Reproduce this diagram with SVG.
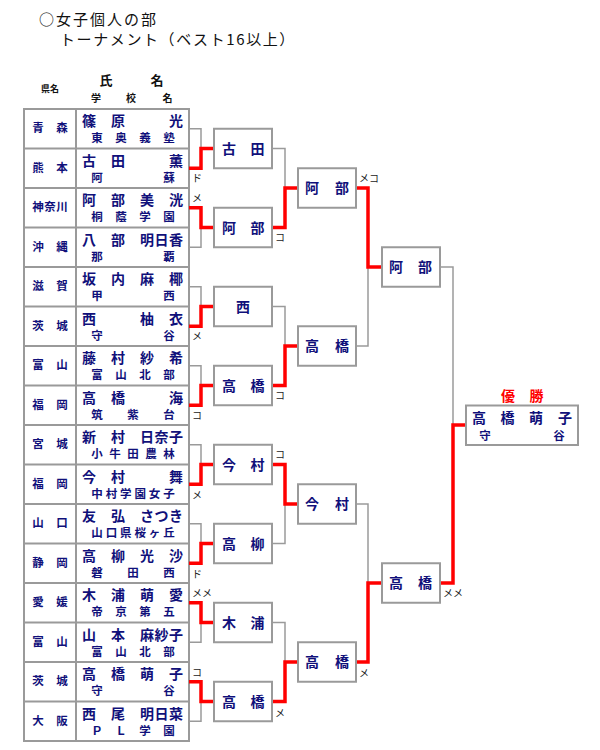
<svg xmlns="http://www.w3.org/2000/svg" width="600" height="750" viewBox="0 0 600 750">
<style>
.t{font-family:"Noto Sans CJK JP","Noto Sans",sans-serif;}
.nm{font-family:"Noto Sans CJK JP",sans-serif;font-size:14px;font-weight:700;fill:#10107a;text-anchor:middle;}
.sc{font-family:"Noto Sans CJK JP",sans-serif;font-size:11.5px;font-weight:700;fill:#10107a;text-anchor:middle;}
.pf{font-family:"Noto Sans CJK JP",sans-serif;font-size:11.5px;font-weight:700;fill:#10107a;text-anchor:middle;}
.box{fill:#fff;stroke:#9a9a9a;stroke-width:2;}
.grid{fill:none;stroke:#9a9a9a;stroke-width:2;}
.gl{fill:none;stroke:#9a9a9a;stroke-width:1.5;}
.rl{fill:none;stroke:#ff0000;stroke-width:3.5;stroke-linejoin:miter;}
.lb{font-family:"Noto Sans CJK JP",sans-serif;font-size:10px;fill:#222;}
</style>
<rect width="600" height="750" fill="#fff"/>
<g id="title" class="t" fill="#111">
<text x="39" y="25" font-size="15" letter-spacing="2">○女子個人の部</text>
<text x="60" y="45" font-size="15" letter-spacing="1.6">トーナメント（ベスト16以上）</text>
</g>
<g id="header" class="t" fill="#111" font-weight="700">
<text x="41" y="92" font-size="9">県名</text>
<text x="106" y="85" font-size="13" text-anchor="middle">氏</text>
<text x="157" y="85" font-size="13" text-anchor="middle">名</text>
<text x="96" y="102" font-size="10" text-anchor="middle">学</text>
<text x="131" y="102" font-size="10" text-anchor="middle">校</text>
<text x="167.5" y="102" font-size="10" text-anchor="middle">名</text>
</g>
<g id="table">
<rect class="grid" x="24" y="109" width="165" height="632"/>
<path class="grid" d="M76 109V741M24 148.5H189M24 188H189M24 227.5H189M24 267H189M24 306.5H189M24 346H189M24 385.5H189M24 425H189M24 464.5H189M24 504H189M24 543.5H189M24 583H189M24 622.5H189M24 662H189M24 701.5H189"/>
</g>
<g id="p1"><text class="pf" x="38 62" y="132">青森</text><text class="nm" x="89 118 176" y="126">篠原光</text><text class="sc" x="97 121 145 169" y="142">東奥義塾</text></g>
<g id="p2"><text class="pf" x="38 62" y="171.5">熊本</text><text class="nm" x="89 118 176" y="165.5">古田薫</text><text class="sc" x="97 169" y="181.5">阿蘇</text></g>
<g id="p3"><text class="pf" x="38 50 62" y="211">神奈川</text><text class="nm" x="89 118 147 176" y="205">阿部美洸</text><text class="sc" x="97 121 145 169" y="221">桐蔭学園</text></g>
<g id="p4"><text class="pf" x="38 62" y="250.5">沖縄</text><text class="nm" x="89 118 147 161.5 176" y="244.5">八部明日香</text><text class="sc" x="97 169" y="260.5">那覇</text></g>
<g id="p5"><text class="pf" x="38 62" y="290">滋賀</text><text class="nm" x="89 118 147 176" y="284">坂内麻椰</text><text class="sc" x="97 169" y="300">甲西</text></g>
<g id="p6"><text class="pf" x="38 62" y="329.5">茨城</text><text class="nm" x="89 147 176" y="323.5">西柚衣</text><text class="sc" x="97 169" y="339.5">守谷</text></g>
<g id="p7"><text class="pf" x="38 62" y="369">富山</text><text class="nm" x="89 118 147 176" y="363">藤村紗希</text><text class="sc" x="97 121 145 169" y="379">富山北部</text></g>
<g id="p8"><text class="pf" x="38 62" y="408.5">福岡</text><text class="nm" x="89 118 176" y="402.5">高橋海</text><text class="sc" x="97 133 169" y="418.5">筑紫台</text></g>
<g id="p9"><text class="pf" x="38 62" y="448">宮城</text><text class="nm" x="89 118 147 161.5 176" y="442">新村日奈子</text><text class="sc" x="97 115 133 151 169" y="458">小牛田農林</text></g>
<g id="p10"><text class="pf" x="38 62" y="487.5">福岡</text><text class="nm" x="89 118 176" y="481.5">今村舞</text><text class="sc" x="97 111.4 125.8 140.2 154.6 169" y="497.5">中村学園女子</text></g>
<g id="p11"><text class="pf" x="38 62" y="527">山口</text><text class="nm" x="89 118 147 161.5 176" y="521">友弘さつき</text><text class="sc" x="97 111.4 125.8 140.2 154.6 169" y="537">山口県桜ヶ丘</text></g>
<g id="p12"><text class="pf" x="38 62" y="566.5">静岡</text><text class="nm" x="89 118 147 176" y="560.5">高柳光沙</text><text class="sc" x="97 133 169" y="576.5">磐田西</text></g>
<g id="p13"><text class="pf" x="38 62" y="606">愛媛</text><text class="nm" x="89 118 147 176" y="600">木浦萌愛</text><text class="sc" x="97 121 145 169" y="616">帝京第五</text></g>
<g id="p14"><text class="pf" x="38 62" y="645.5">富山</text><text class="nm" x="89 118 147 161.5 176" y="639.5">山本麻紗子</text><text class="sc" x="97 121 145 169" y="655.5">富山北部</text></g>
<g id="p15"><text class="pf" x="38 62" y="685">茨城</text><text class="nm" x="89 118 147 176" y="679">高橋萌子</text><text class="sc" x="97 169" y="695">守谷</text></g>
<g id="p16"><text class="pf" x="38 62" y="724.5">大阪</text><text class="nm" x="89 118 147 161.5 176" y="718.5">西尾明日菜</text><text class="sc" x="97 121 145 169" y="734.5">ＰＬ学園</text></g>
<g id="connectors">
<path class="gl" d="M189 128.75H201V168.25H189M189 207.75H201V247.25H189M189 286.75H201V326.25H189M189 365.75H201V405.25H189M189 444.75H201V484.25H189M189 523.75H201V563.25H189M189 602.75H201V642.25H189M189 681.75H201V721.25H189"/>
<path class="gl" d="M272 148.5H285V227.5H272M272 306.5H285V385.5H272M272 464.5H285V543.5H272M272 622.5H285V701.5H272"/>
<path class="gl" d="M356 188H368V346H356M356 504H368V662H356"/>
<path class="gl" d="M440 267H453V583H440"/>
<path class="rl" d="M189 168.25H201V148.5H214M189 207.75H201V227.5H214M189 326.25H201V306.5H214M189 405.25H201V385.5H214M189 484.25H201V464.5H214M189 563.25H201V543.5H214M189 602.75H201V622.5H214M189 681.75H201V701.5H214"/>
<path class="rl" d="M272 227.5H285V188H298M272 385.5H285V346H298M272 464.5H285V504H298M272 701.5H285V662H298"/>
<path class="rl" d="M356 188H368V267H382M356 662H368V583H382"/>
<path class="rl" d="M440 583H453V425H466"/>
</g>
<g id="labels">
<text class="lb" x="192" y="182">ド</text>
<text class="lb" x="192" y="202">メ</text>
<text class="lb" x="192" y="340">メ</text>
<text class="lb" x="192" y="419">コ</text>
<text class="lb" x="192" y="499">メ</text>
<text class="lb" x="192" y="578">ド</text>
<text class="lb" x="192" y="597">メメ</text>
<text class="lb" x="192" y="676">コ</text>
<text class="lb" x="275" y="241">コ</text>
<text class="lb" x="275" y="399">コ</text>
<text class="lb" x="275" y="458">コ</text>
<text class="lb" x="275" y="717">メ</text>
<text class="lb" x="359" y="182">メコ</text>
<text class="lb" x="359" y="677">メ</text>
<text class="lb" x="443" y="597">メメ</text>
</g>
<g id="r1-1"><rect class="box" x="214" y="128.75" width="58" height="39.5"/><text class="nm" x="229 257.5" y="153.5">古田</text></g>
<g id="r1-2"><rect class="box" x="214" y="207.75" width="58" height="39.5"/><text class="nm" x="229 257.5" y="232.5">阿部</text></g>
<g id="r1-3"><rect class="box" x="214" y="286.75" width="58" height="39.5"/><text class="nm" x="243" y="311.5">西</text></g>
<g id="r1-4"><rect class="box" x="214" y="365.75" width="58" height="39.5"/><text class="nm" x="229 257.5" y="390.5">高橋</text></g>
<g id="r1-5"><rect class="box" x="214" y="444.75" width="58" height="39.5"/><text class="nm" x="229 257.5" y="469.5">今村</text></g>
<g id="r1-6"><rect class="box" x="214" y="523.75" width="58" height="39.5"/><text class="nm" x="229 257.5" y="548.5">高柳</text></g>
<g id="r1-7"><rect class="box" x="214" y="602.75" width="58" height="39.5"/><text class="nm" x="229 257.5" y="627.5">木浦</text></g>
<g id="r1-8"><rect class="box" x="214" y="681.75" width="58" height="39.5"/><text class="nm" x="229 257.5" y="706.5">高橋</text></g>
<g id="r2-1"><rect class="box" x="298" y="168.25" width="58" height="39.5"/><text class="nm" x="312 342" y="193">阿部</text></g>
<g id="r2-2"><rect class="box" x="298" y="326.25" width="58" height="39.5"/><text class="nm" x="312 342" y="351">高橋</text></g>
<g id="r2-3"><rect class="box" x="298" y="484.25" width="58" height="39.5"/><text class="nm" x="312 342" y="509">今村</text></g>
<g id="r2-4"><rect class="box" x="298" y="642.25" width="58" height="39.5"/><text class="nm" x="312 342" y="667">高橋</text></g>
<g id="sf-1"><rect class="box" x="382" y="247.25" width="58" height="39.5"/><text class="nm" x="396 425" y="272">阿部</text></g>
<g id="sf-2"><rect class="box" x="382" y="563.25" width="58" height="39.5"/><text class="nm" x="396 425" y="588">高橋</text></g>
<g id="champion">
<text class="nm" x="508 536.5" y="400.5" style="fill:#ff0000">優勝</text>
<rect class="box" x="466" y="405.5" width="112" height="39.5"/>
<text class="nm" x="479 507.5 536 565" y="422.5">高橋萌子</text>
<text class="sc" x="485 559" y="440">守谷</text>
</g>
</svg>
